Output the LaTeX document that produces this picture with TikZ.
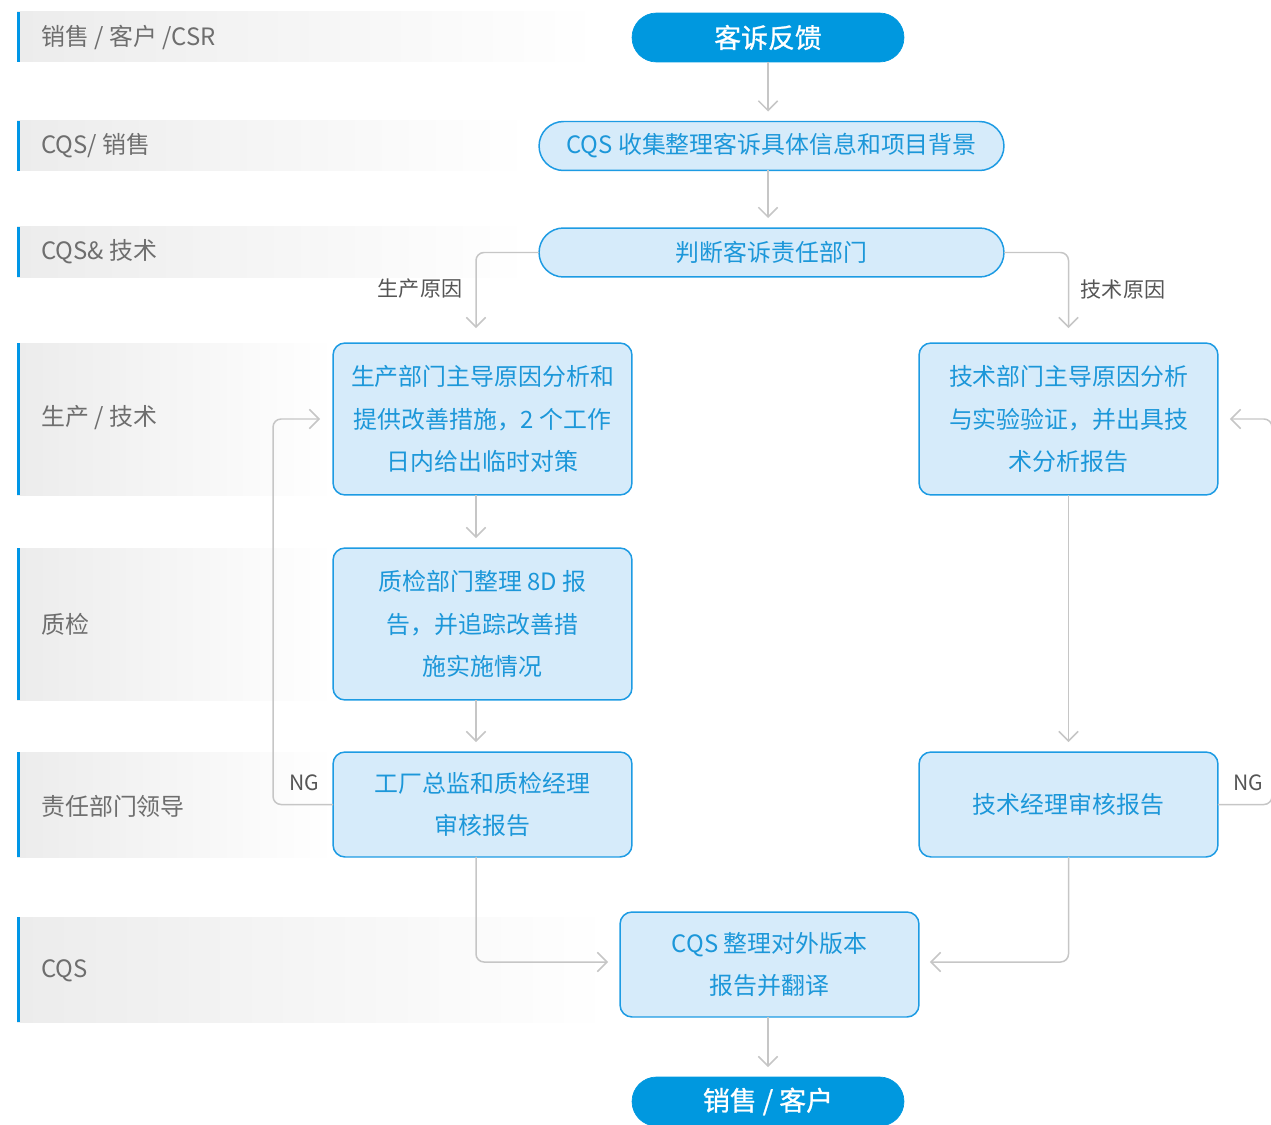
\documentclass[tikz,border=0pt]{standalone}
\usepackage{fontspec}
\setmainfont{Noto Sans CJK SC}
\newfontfamily\pillfont[FakeBold=0.9]{Noto Sans CJK SC}
\usetikzlibrary{arrows.meta}
\definecolor{pillblue}{RGB}{0,152,223}
\definecolor{boxfill}{RGB}{214,235,250}
\definecolor{boxline}{RGB}{29,155,227}
\definecolor{boxtext}{RGB}{28,151,217}
\definecolor{conngray}{RGB}{198,198,198}
\definecolor{lanetext}{RGB}{110,110,110}
\definecolor{edgetext}{RGB}{85,85,85}
\definecolor{lanebar}{RGB}{0,150,230}
\definecolor{lanegray}{RGB}{236,236,236}
\tikzset{
  pill/.style={draw=pillblue, fill=pillblue, text=white, rounded corners=0.49cm,
    minimum width=5.44cm, minimum height=0.98cm, inner sep=0pt, outer sep=0pt,
    font=\pillfont\fontsize{15.3}{18}\selectfont},
  lpill/.style={draw=boxline, fill=boxfill, text=boxtext, line width=0.85pt,
    rounded corners=0.49cm, minimum width=9.3cm, minimum height=0.98cm,
    inner sep=0pt, outer sep=0pt, font=\fontsize{13.6}{24.2}\selectfont},
  box/.style={draw=boxline, fill=boxfill, text=boxtext, line width=0.85pt,
    rounded corners=0.24cm, minimum width=5.98cm, inner sep=0pt, outer sep=0pt,
    align=center, font=\fontsize{13.6}{24.2}\selectfont},
  conn/.style={draw=conngray, line width=0.85pt, rounded corners=0.16cm,
    -{Straight Barb[length=5.5pt,width=11pt,line width=0.85pt]}},
  lanelabel/.style={anchor=west, text=lanetext, inner sep=0pt,
    font=\fontsize{13.6}{16}\selectfont},
  edgelabel/.style={text=edgetext, inner sep=0pt, font=\fontsize{12}{14}\selectfont},
}
\begin{document}
\begin{tikzpicture}[x=0.02cm,y=-0.02cm]
\useasboundingbox (0,0) rectangle (1271,1125);
% lanes
\foreach \ya/\yb/\xe in {12/62/600, 121/171/530, 227/277/530, 343/495/335, 548/700/335, 752/857/335, 917/1022/610}{
  \shade[left color=lanegray, right color=white] (17,\ya) rectangle (\xe,\yb);
  \fill[lanebar] (17,\ya) rectangle (20,\yb);
}
\node[lanelabel] (l1) at (41,37) {销售 / 客户 /CSR};
\node[lanelabel] (l2) at (41,146) {CQS/ 销售};
\node[lanelabel] (l3) at (41,252) {CQS\& 技术};
\node[lanelabel] (l4) at (41,418) {生产 / 技术};
\node[lanelabel] (l5) at (41,624) {质检};
\node[lanelabel] (l6) at (41,806) {责任部门领导};
\node[lanelabel] (l7) at (41,971) {CQS};
% nodes
\node[pill] (t1) at (768,37.5) {客诉反馈};
\node[lpill] (n2) at (771.5,146) {CQS 收集整理客诉具体信息和项目背景};
\node[lpill] (n3) at (771.5,252.5) {判断客诉责任部门};
\node[box, minimum height=3.04cm] (n4) at (482.5,419) {生产部门主导原因分析和\\提供改善措施，2 个工作\\日内给出临时对策};
\node[box, minimum height=3.04cm] (n5) at (1068.5,419) {技术部门主导原因分析\\与实验验证，并出具技\\术分析报告};
\node[box, minimum height=3.04cm] (n6) at (482.5,624) {质检部门整理 8D 报\\告，并追踪改善措\\施实施情况};
\node[box, minimum height=2.1cm] (n7) at (482.5,804.5) {工厂总监和质检经理\\审核报告};
\node[box, minimum height=2.1cm] (n8) at (1068.5,804.5) {技术经理审核报告};
\node[box, minimum height=2.1cm] (n9) at (769.5,964.5) {CQS 整理对外版本\\报告并翻译};
\node[pill] (t2) at (768,1101.5) {销售 / 客户};
% connectors
\draw[conn] (t1.south) -- ([yshift=0.2cm]t1.south |- n2.north);
\draw[conn] (t1.south |- n2.south) -- ([yshift=0.2cm]t1.south |- n3.north);
\draw[conn] (n3.west) -| ([xshift=-0.13cm,yshift=0.3cm]n4.north);
\draw[conn] (n3.east) -| ([yshift=0.3cm]n5.north);
\draw[conn] ([xshift=-0.13cm]n4.south) -- ([xshift=-0.13cm,yshift=0.2cm]n6.north);
\draw[conn] ([xshift=-0.13cm]n6.south) -- ([xshift=-0.13cm,yshift=0.2cm]n7.north);
\draw[conn] (n5.south) -- ([yshift=0.2cm]n8.north);
\draw[conn] (n7.west) -| ([xshift=-1.2cm]n4.west) -- ([xshift=-0.26cm]n4.west);
\draw[conn] (n8.east) -| ([xshift=1.08cm]n5.east) -- ([xshift=0.24cm]n5.east);
\draw[conn] ([xshift=-0.13cm]n7.south) |- ([xshift=-0.24cm,yshift=0.05cm]n9.west);
\draw[conn] (n8.south) |- ([xshift=0.22cm,yshift=0.05cm]n9.east);
\draw[conn] (t1.south |- n9.south) -- ([yshift=0.2cm]t2.north);
% edge labels
\node[edgelabel] (e1) at (420,289) {生产原因};
\node[edgelabel] (e2) at (1123,289) {技术原因};
\node[edgelabel] (e3) at (304,783) {NG};
\node[edgelabel] (e4) at (1248,783) {NG};
\end{tikzpicture}
\end{document}
